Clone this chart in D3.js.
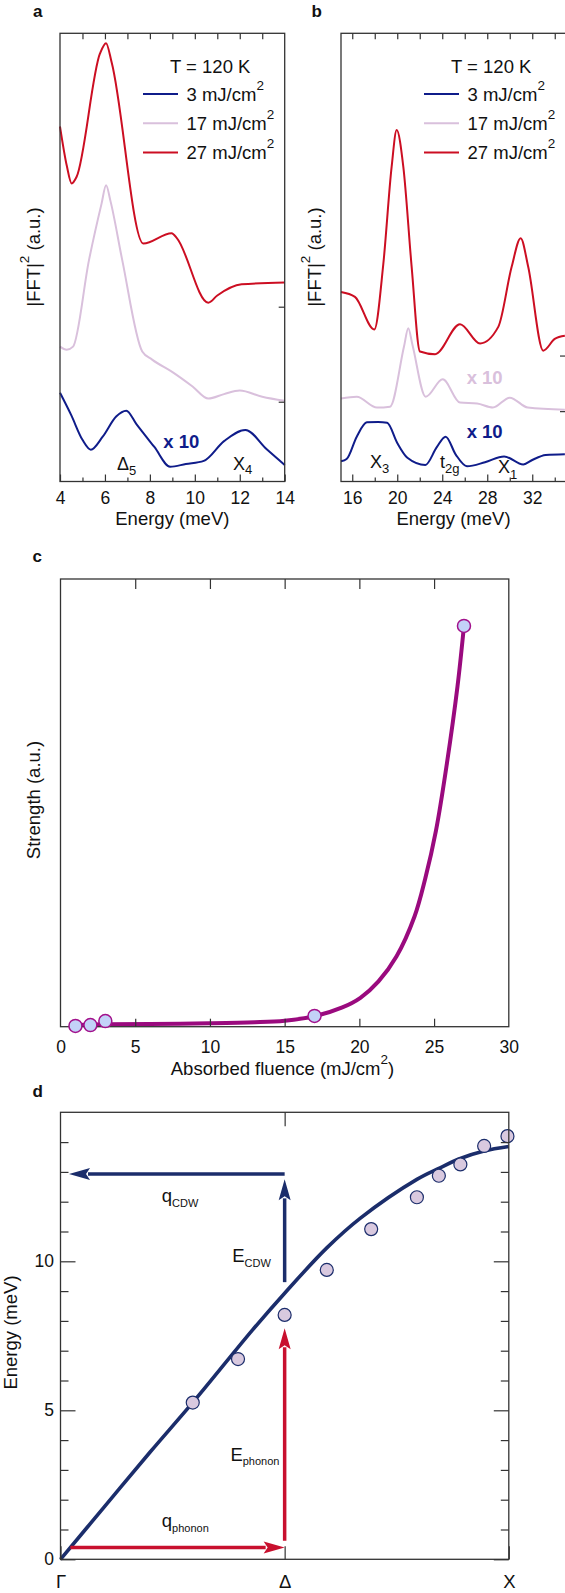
<!DOCTYPE html>
<html>
<head>
<meta charset="utf-8">
<script src="https://cdn.jsdelivr.net/npm/d3@7"></script>
<style>
  body { margin: 0; background: #fff; }
  text { font-family: "Liberation Sans", Arial, Helvetica, sans-serif; }
</style>
</head>
<body>
<svg id="fig" width="565" height="1593"></svg>
<script>
// ---- values ----
// a: |FFT|^2 (a.u., curves offset) vs energy (meV)
const a3  = [[4.0,19.8],[4.5,14.8],[5.0,9.3],[5.37,7.1],[5.9,10.0],[6.5,14.5],[6.95,15.8],[7.4,12.8],[8.2,7.7],[8.9,3.3],[9.6,3.9],[10.4,4.6],[11.3,9.0],[12.25,11.5],[13.2,7.2],[14.0,3.7]];
const a17 = [[4.0,30.1],[4.3,29.4],[4.58,30.1],[5.29,49.4],[5.85,62.0],[6.05,66.1],[6.25,62.5],[6.77,49.4],[7.66,29.0],[8.1,27.2],[9.04,24.3],[9.9,21.2],[10.6,18.5],[11.3,19.5],[12.0,20.3],[13.0,18.9],[14.0,18.0]];
const a27 = [[4.0,79.2],[4.3,70.5],[4.52,66.5],[4.74,68.0],[5.78,95.5],[6.05,97.8],[6.3,93.5],[7.71,53.1],[8.97,55.4],[9.2,54.3],[10.6,39.9],[11.0,41.5],[12.08,44.0],[14.0,44.4]];
const aBaselines = [17.8, 39.0];

// b: |FFT|^2 (a.u., curves offset) vs energy (meV)
const b3  = [[15.0,4.5],[15.5,5.0],[16.4,10.0],[17.3,13.2],[18.3,13.3],[19.1,13.1],[20.0,8.6],[20.9,5.3],[22.5,3.7],[23.5,7.6],[24.3,10.0],[25.2,6.0],[26.2,3.4],[27.8,4.3],[29.5,5.6],[31.2,3.8],[32.0,4.8],[33.2,5.9],[34.9,6.1]];
const b17 = [[15.0,18.5],[16.4,18.9],[18.2,16.5],[19.36,16.7],[20.6,30.1],[20.98,34.2],[21.35,30.5],[22.53,18.9],[24.04,22.8],[25.58,17.6],[27.1,17.4],[28.5,16.5],[30.0,18.7],[31.6,16.5],[34.9,16.0]];
const b27 = [[15.0,42.3],[16.24,41.2],[17.96,33.9],[18.76,48.5],[19.5,70.2],[19.95,78.4],[20.54,70.2],[21.28,47.9],[22.02,29.0],[23.36,28.4],[25.58,35.1],[27.36,30.8],[28.98,34.5],[30.17,47.9],[30.97,54.3],[31.64,47.9],[32.98,29.2],[34.0,31.8],[34.9,32.5]];
const bBaselines = [15.7, 28.1];

const legendFluences = ['3', '17', '27'];

// c: strength (a.u.) vs absorbed fluence (mJ/cm2)
const cFluence  = [1, 2, 3, 17, 27];
const cStrength = [0.002, 0.004, 0.014, 0.027, 1.0];
const cFitFluence  = [1, 3, 6, 10, 13, 15, 17, 18.86, 20.07, 21.28, 22.48, 23.69, 24.41, 25.13, 25.85, 26.57, 27];
const cFitStrength = [0.004, 0.006, 0.007, 0.0085, 0.011, 0.015, 0.026, 0.048, 0.072, 0.113, 0.175, 0.275, 0.37, 0.49, 0.655, 0.85, 1.0];

// d: energy (meV) along Gamma - Delta - X (q as fraction of path)
const dQ = [0.295, 0.396, 0.5, 0.594, 0.693, 0.795, 0.844, 0.892, 0.945, 0.997];
const dE = [5.26, 6.72, 8.2, 9.71, 11.08, 12.15, 12.87, 13.25, 13.87, 14.2];
const dFitQ = [0, 0.1, 0.2, 0.3, 0.428, 0.5, 0.594, 0.669, 0.795, 0.844, 0.892, 0.945, 1.0];
const dFitE = [0, 1.8, 3.6, 5.35, 7.69, 8.93, 10.45, 11.45, 12.75, 13.12, 13.45, 13.7, 13.85];
const qCdw = [0.5, 0.019], eCdwLine = 12.93;       // horizontal arrow
const eCdw = [9.3, 12.75];                          // vertical arrow at Delta
const qPhonon = [0.022, 0.5], ePhononLine = 0.40;   // horizontal arrow
const ePhonon = [0.62, 7.75];                       // vertical arrow at Delta

// tick labels
const aTicks = [4, 6, 8, 10, 12, 14], aMinor = [5, 7, 9, 11, 13], aTop = d3.range(5, 14);
const bTicks = [16, 20, 24, 28, 32], bMinor = [18, 22, 26, 30, 34], bTop = d3.range(16, 35, 2);
const cTicks = [0, 5, 10, 15, 20, 25, 30], cInner = [5, 10, 15, 20, 25];
const dTicks = [0, 5, 10], dMinor = [1, 2, 3, 4, 6, 7, 8, 9, 11, 12, 13, 14];
const dPoints = [0, 0.5, 1], dPointLabels = ['Γ', 'Δ', 'X'];

// ---- drawing ----
const NAVY = '#0f1c8a', PINK = '#d9c0dc', RED = '#cc0e22';
const PURPLE = '#9a0a7e', DNAVY = '#1b2d6b', DRED = '#c8102e';
const INK = '#111', FRAME = '#333';
const svg = d3.select('#fig');

function frame(g, w, h) {
  g.append('rect').attr('width', w).attr('height', h)
    .attr('fill', 'none').attr('stroke', FRAME).attr('stroke-width', 1.3);
}
function axis(g, ax, tr, size) {
  const a = g.append('g').attr('transform', tr || null).call(ax);
  a.select('.domain').remove();
  a.selectAll('line').attr('stroke', FRAME).attr('stroke-width', 1.2);
  a.selectAll('text').attr('font-size', size || 17.5).attr('fill', INK)
    .attr('font-family', '"Liberation Sans", Arial, sans-serif');
  return a;
}
function label(x, y, t) {
  svg.append('text').attr('x', x).attr('y', y).attr('font-size', 17)
    .attr('font-weight', 'bold').attr('fill', INK).text(t);
}
function subText(g, x, y, main, sub, size, subSize, dy) {
  const t = g.append('text').attr('x', x).attr('y', y).attr('font-size', size).attr('fill', INK);
  t.append('tspan').text(main);
  t.append('tspan').attr('font-size', subSize).attr('dy', dy).text(sub);
  return t;
}
function superTitle(x, y, parts, rotate) {
  const t = svg.append('text').attr('x', x).attr('y', y).attr('text-anchor', 'middle')
    .attr('font-size', 18.5).attr('fill', INK);
  if (rotate) t.attr('transform', `rotate(-90,${x},${y})`);
  t.append('tspan').text(parts[0]);
  t.append('tspan').attr('font-size', 13.5).attr('dy', -11).text('2');
  t.append('tspan').attr('dy', 11).text(parts[1]);
}

// spectra panels a & b
function spectra(o) {
  const g = svg.append('g').attr('transform', `translate(${o.left},33.3)`);
  const w = o.width, h = 448.2;
  const x = d3.scaleLinear(o.domain, [0, w]);
  const y = d3.scaleLinear([0, 100], [h, 0]);
  const line = d3.line().x(d => x(d[0])).y(d => y(d[1])).curve(d3.curveMonotoneX);
  const series = [[o.s3, NAVY], [o.s17, PINK], [o.s27, RED]];
  series.forEach(([s, c]) => g.append('path').datum(s).attr('d', line)
    .attr('fill', 'none').attr('stroke', c).attr('stroke-width', 2));
  frame(g, w, h);
  axis(g, d3.axisBottom(x).tickValues(o.ticks).tickSize(-7).tickPadding(9.7).tickFormat(d3.format('d')), `translate(0,${h})`);
  axis(g, d3.axisBottom(x).tickValues(o.minor).tickSize(-4).tickFormat(''), `translate(0,${h})`);
  axis(g, d3.axisTop(x).tickValues(o.top).tickSize(-6).tickFormat(''));
  axis(g, d3.axisRight(y).tickValues(o.baselines).tickSize(-6).tickFormat(''), `translate(${w},0)`);

  // legend
  g.append('text').attr('x', 110).attr('y', 39.4).attr('font-size', 18.5).attr('fill', INK).text('T = 120 K');
  legendFluences.forEach((f, i) => {
    const ly = 60.7 + i * 29.2;
    g.append('line').attr('x1', 83).attr('x2', 118).attr('y1', ly).attr('y2', ly)
      .attr('stroke', series[i][1]).attr('stroke-width', 2);
    const t = g.append('text').attr('x', 126.5).attr('y', ly + 6.6).attr('font-size', 18.5).attr('fill', INK);
    t.append('tspan').text(`${f} mJ/cm`);
    t.append('tspan').attr('font-size', 13.5).attr('dy', -10.5).text('2');
  });

  superTitle(o.titleX, 257, ['|FFT|', ' (a.u.)'], true);
  svg.append('text').attr('x', o.left + w / 2).attr('y', 525)
    .attr('text-anchor', 'middle').attr('font-size', 18.5).attr('fill', INK).text('Energy (meV)');
  return { g, x, y };
}

const A = spectra({ left: 60, width: 224.7, domain: [4, 14], s3: a3, s17: a17, s27: a27,
  ticks: aTicks, minor: aMinor, top: aTop, baselines: aBaselines, titleX: 40 });
const B = spectra({ left: 341, width: 225, domain: [15, 35], s3: b3, s17: b17, s27: b27,
  ticks: bTicks, minor: bMinor, top: bTop, baselines: bBaselines, titleX: 321 });

function times10(P, e, v, c) {
  P.g.append('text').attr('x', P.x(e)).attr('y', P.y(v)).attr('font-size', 18.5)
    .attr('font-weight', 'bold').attr('fill', c).text('x 10');
}
times10(A, 8.6, 7.47, NAVY);
times10(B, 26.17, 21.75, PINK);
times10(B, 26.17, 9.6, NAVY);
subText(A.g, A.x(6.54), A.y(2.57), 'Δ', '5', 18, 13, 5);
subText(A.g, A.x(11.7), A.y(2.57), 'X', '4', 18, 13, 4);
subText(B.g, B.x(17.58), B.y(3.1), 'X', '3', 18, 13, 5);
subText(B.g, B.x(23.8), B.y(3.0), 't', '2g', 18, 13, 5);
subText(B.g, B.x(28.96), B.y(1.9), 'X', '1', 18, 13, 6);

label(33, 16.7, 'a');
label(311.5, 16.7, 'b');

// panel c
(() => {
  const g = svg.append('g').attr('transform', 'translate(60.5,579)');
  const w = 448.3, h = 447.7;
  const x = d3.scaleLinear([0, 30], [0, w]);
  const y = d3.scaleLinear([0, 1.117], [h, 0]);
  const fit = cFitFluence.map((f, i) => [f, cFitStrength[i]]);
  g.append('path').datum(fit)
    .attr('d', d3.line().x(d => x(d[0])).y(d => y(d[1])).curve(d3.curveCatmullRom.alpha(0.5)))
    .attr('fill', 'none').attr('stroke', PURPLE).attr('stroke-width', 4);
  frame(g, w, h);
  axis(g, d3.axisBottom(x).tickValues(cTicks).tickSize(0).tickPadding(13.6), `translate(0,${h})`);
  axis(g, d3.axisBottom(x).tickValues(cInner).tickSize(-8).tickFormat(''), `translate(0,${h})`);
  axis(g, d3.axisTop(x).tickValues(cInner).tickSize(-10).tickFormat(''));
  g.selectAll('circle').data(cFluence).join('circle')
    .attr('cx', d => x(d)).attr('cy', (d, i) => y(cStrength[i])).attr('r', 6.5)
    .attr('fill', '#c3d2f8').attr('stroke', '#a2118c').attr('stroke-width', 1.5);
  svg.append('text').attr('x', 40).attr('y', 800).attr('text-anchor', 'middle')
    .attr('font-size', 18.5).attr('fill', INK).attr('transform', 'rotate(-90,40,800)')
    .text('Strength (a.u.)');
  superTitle(282.5, 1075, ['Absorbed fluence (mJ/cm', ')'], false);
  label(32.4, 561.7, 'c');
})();

// panel d
(() => {
  const g = svg.append('g').attr('transform', 'translate(60.5,1112.3)');
  const w = 448.3, h = 447;
  const x = d3.scaleLinear([0, 1], [0, w]);
  const y = d3.scaleLinear([0, 15], [h, 0]);
  const fit = dFitQ.map((q, i) => [q, dFitE[i]]);
  g.append('path').datum(fit)
    .attr('d', d3.line().x(d => x(d[0])).y(d => y(d[1])).curve(d3.curveCatmullRom.alpha(0.5)))
    .attr('fill', 'none').attr('stroke', DNAVY).attr('stroke-width', 3.6);

  function arrow(x0, y0, x1, y1, c) {
    const dx = x1 - x0, dy = y1 - y0, L = Math.hypot(dx, dy), ux = dx / L, uy = dy / L;
    const hl = 21, hw = 6, bx = x1 - ux * hl, by = y1 - uy * hl;
    g.append('line').attr('x1', x0).attr('y1', y0).attr('x2', bx + ux * 2).attr('y2', by + uy * 2)
      .attr('stroke', c).attr('stroke-width', 3.5);
    g.append('path').attr('fill', c)
      .attr('d', `M${x1},${y1}L${bx - uy * hw},${by + ux * hw}L${bx + ux * 4},${by + uy * 4}L${bx + uy * hw},${by - ux * hw}Z`);
  }
  arrow(x(qCdw[0]), y(eCdwLine), x(qCdw[1]), y(eCdwLine), DNAVY);
  arrow(x(0.5), y(eCdw[0]), x(0.5), y(eCdw[1]), DNAVY);
  arrow(x(qPhonon[0]), y(ePhononLine), x(qPhonon[1]), y(ePhononLine), DRED);
  arrow(x(0.5), y(ePhonon[0]), x(0.5), y(ePhonon[1]), DRED);

  g.selectAll('circle').data(dQ).join('circle')
    .attr('cx', d => x(d)).attr('cy', (d, i) => y(dE[i])).attr('r', 6.5)
    .attr('fill', '#d9c9df').attr('stroke', DNAVY).attr('stroke-width', 1.2);

  frame(g, w, h);
  axis(g, d3.axisLeft(y).tickValues(dTicks).tickSize(-15).tickPadding(6.5));
  axis(g, d3.axisLeft(y).tickValues(dMinor).tickSize(-8).tickFormat(''));
  axis(g, d3.axisRight(y).tickValues(dTicks).tickSize(-15).tickFormat(''), `translate(${w},0)`);
  axis(g, d3.axisRight(y).tickValues(dMinor).tickSize(-8).tickFormat(''), `translate(${w},0)`);
  axis(g, d3.axisBottom(x).tickValues(dPoints).tickSize(-13).tickPadding(16)
    .tickFormat((d, i) => dPointLabels[i]), `translate(0,${h})`, 18.5);
  axis(g, d3.axisTop(x).tickValues([0.5]).tickSize(-14).tickFormat(''));

  subText(g, x(0.226), y(12.0), 'q', 'CDW', 18.5, 11, 5);
  subText(g, x(0.383), y(9.98), 'E', 'CDW', 18.5, 11, 5);
  subText(g, x(0.379), y(3.3), 'E', 'phonon', 18.5, 11, 4);
  subText(g, x(0.226), y(1.08), 'q', 'phonon', 18.5, 11, 5);

  svg.append('text').attr('x', 17).attr('y', 1332.5).attr('text-anchor', 'middle')
    .attr('font-size', 18.5).attr('fill', INK).attr('transform', 'rotate(-90,17,1332.5)')
    .text('Energy (meV)');
  label(32.4, 1096.7, 'd');
})();
</script>
</body>
</html>
